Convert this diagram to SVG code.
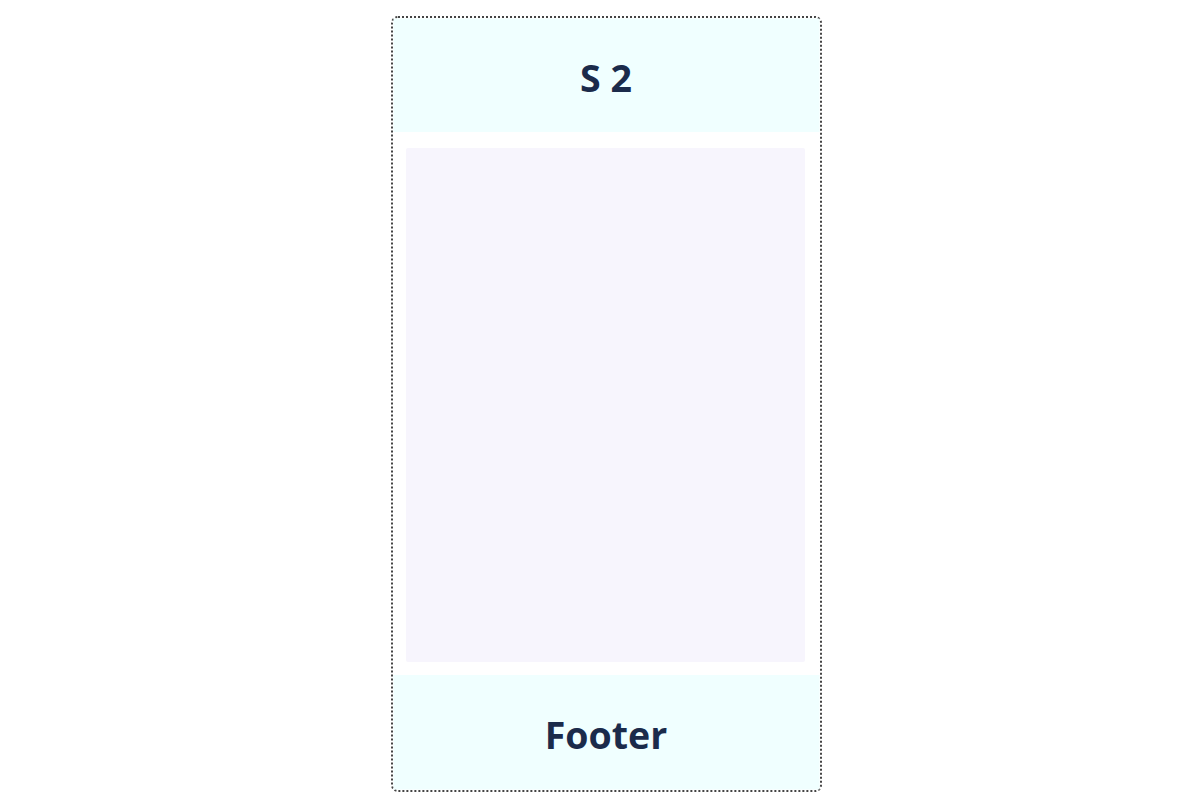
<svg xmlns="http://www.w3.org/2000/svg" width="1200" height="809" viewBox="0 0 1200 809">
<style>
.band{fill:#f0ffff}
.title{font-family:"Open Sans","Noto Sans","Liberation Sans",sans-serif;font-weight:700;font-size:37.5px;fill:#1b2b4b;text-anchor:middle}
</style>
<rect width="1200" height="809" fill="#ffffff"/>
<g id="s2">
<rect x="392" y="17" width="429" height="774" rx="6" fill="#ffffff" stroke="#444444" stroke-width="2" stroke-dasharray="2,2"/>
<g id="header">
<rect class="band" x="393.5" y="18.5" width="426" height="113.5"/>
<text class="title" x="606" y="92">S 2</text>
</g>
<g id="body">
<rect x="406" y="148" width="399" height="514" rx="2" fill="#f7f5fd"/>
</g>
<g id="footer">
<rect class="band" x="393.5" y="675" width="426" height="114.5"/>
<text class="title" x="606" y="749">Footer</text>
</g>
</g>
<g id="connectors"></g>
</svg>
